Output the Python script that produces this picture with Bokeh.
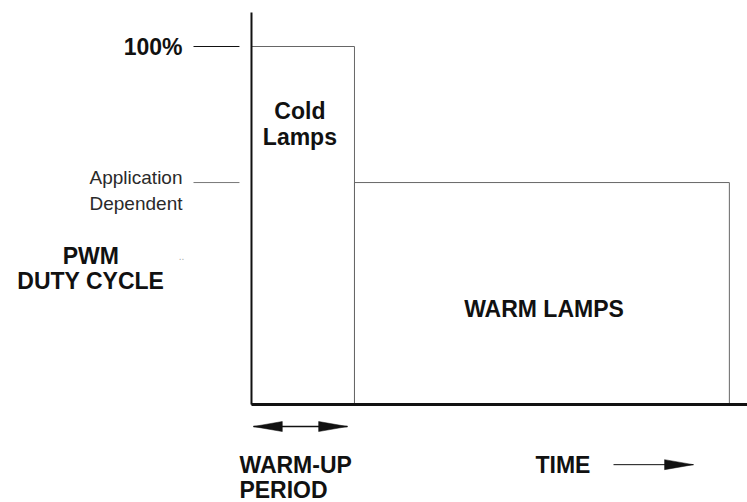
from bokeh.plotting import figure
from bokeh.models import Range1d
from bokeh.core.properties import value
from bokeh.embed import file_html
from bokeh.resources import INLINE

# ---- chart data (time in warm-up units, duty cycle in %) ----
phase_names = ["Cold Lamps", "WARM LAMPS"]
phase_start = [0.0, 1.0]
phase_end = [1.0, 4.64]
duty_levels = [100, 62]
level_labels = ["100%", "Application Dependent"]
y_title_lines = ["PWM", "DUTY CYCLE"]
warmup_label_lines = ["WARM-UP", "PERIOD"]
time_label = "TIME"

FONT = value("Liberation Sans")
INK = "#111111"
BIG = "23px"
WEIGHT = "bold"

p = figure(width=747, height=502,
           x_range=Range1d(-2.437, 4.816), y_range=Range1d(-27.37, 112.85),
           output_backend="svg", toolbar_location=None,
           x_axis_location=None, y_axis_location=None, min_border=0)
p.grid.visible = False
p.outline_line_color = None
p.background_fill_color = "white"
p.border_fill_color = "white"

# phase boxes
p.quad(left=phase_start, right=phase_end, bottom=[0, 0], top=duty_levels,
       fill_color=None, line_color="#666666", line_width=1)

# axes lines
p.segment(x0=[0], y0=[0], x1=[0], y1=[109.5], line_color="#111111", line_width=2)
p.segment(x0=[0], y0=[0], x1=[4.816], y1=[0], line_color="#111111", line_width=3)

# level ticks
p.segment(x0=[-0.563, -0.563], y0=duty_levels, x1=[-0.117, -0.117], y1=duty_levels,
          line_color=["#111111", "#777777"], line_width=1)

# level labels
p.text(x=[-0.670], y=[duty_levels[0]], text=[level_labels[0]],
       text_font=FONT, text_font_size=BIG, text_font_style=WEIGHT, text_color=INK,
       text_align="right", text_baseline="middle")
app_lines = level_labels[1].split(" ")
p.text(x=[-0.670, -0.670], y=[63.4, 56.1], text=app_lines,
       text_font=FONT, text_font_size="19px", text_color="#2a2a2a",
       text_align="right", text_baseline="alphabetic")
p.text(x=[-0.68], y=[41.6], text=[".."], text_font=FONT, text_font_size="10px",
       text_color="#aaaaaa", text_align="center", text_baseline="middle")

# y title
p.text(x=[-1.56, -1.56], y=[41.6, 34.4], text=y_title_lines,
       text_font=FONT, text_font_size=BIG, text_font_style=WEIGHT, text_color=INK,
       text_align="center", text_baseline="middle")

# phase labels
cold_lines = phase_names[0].split(" ")
p.text(x=[0.47, 0.47], y=[82.0, 74.6], text=cold_lines,
       text_font=FONT, text_font_size=BIG, text_font_style=WEIGHT, text_color=INK,
       text_align="center", text_baseline="middle")
p.text(x=[(phase_start[1] + phase_end[1]) / 2 + 0.02], y=[26.8], text=[phase_names[1]],
       text_font=FONT, text_font_size=BIG, text_font_style=WEIGHT, text_color=INK,
       text_align="center", text_baseline="middle")

# x labels
p.text(x=[-0.117, -0.117], y=[-16.8, -24.0], text=warmup_label_lines,
       text_font=FONT, text_font_size=BIG, text_font_style=WEIGHT, text_color=INK,
       text_align="left", text_baseline="middle")
p.text(x=[2.757], y=[-16.8], text=[time_label],
       text_font=FONT, text_font_size=BIG, text_font_style=WEIGHT, text_color=INK,
       text_align="left", text_baseline="middle")

# arrows
HL, HW = 0.28, 1.4
def arrow(x0, x1, y, both):
    p.segment(x0=[x0], y0=[y], x1=[x1], y1=[y], line_color=INK, line_width=1.5 if both else 1)
    xs = [[x1, x1 - HL, x1 - HL]]
    ys = [[y, y + HW, y - HW]]
    if both:
        xs.append([x0, x0 + HL, x0 + HL])
        ys.append([y, y + HW, y - HW])
    p.patches(xs=xs, ys=ys, fill_color=INK, line_color=INK, line_width=0.5)

arrow(phase_start[0] + 0.019, phase_end[0] - 0.068, -6.15, True)
arrow(3.515, 4.291, -16.8, False)

open("out.html", "w").write(file_html(p, INLINE))
